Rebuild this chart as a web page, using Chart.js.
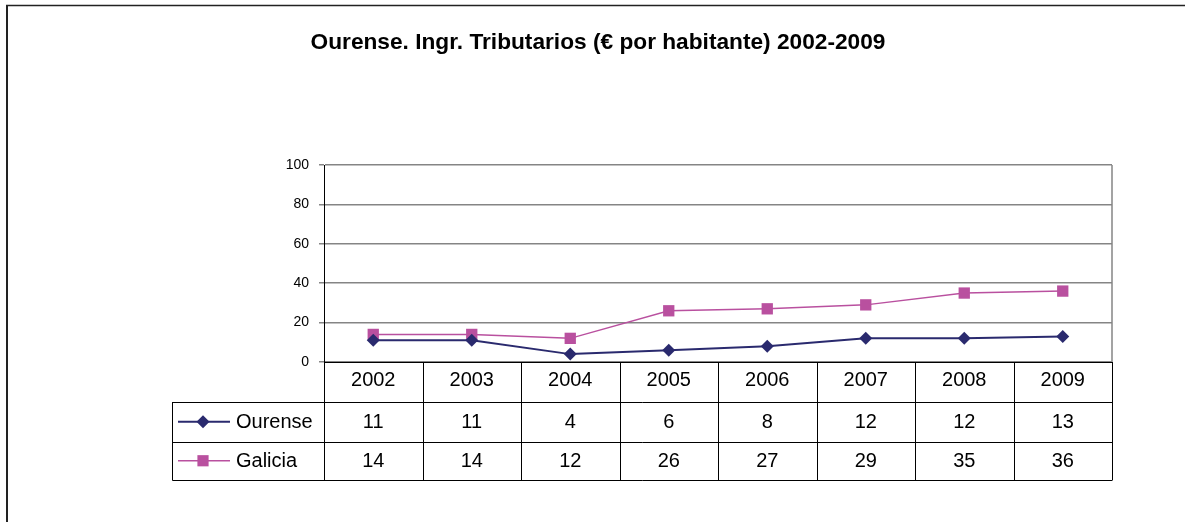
<!DOCTYPE html>
<html>
<head>
<meta charset="utf-8">
<script src="https://cdn.jsdelivr.net/npm/chart.js@4/dist/chart.umd.min.js"></script>
<style>
html,body{margin:0;padding:0;background:#fff;}
</style>
</head>
<body>
<canvas id="mychart" width="1185" height="522"></canvas>
<script>
const chartTitle='Ourense. Ingr. Tributarios (€ por habitante) 2002-2009';
const years=['2002','2003','2004','2005','2006','2007','2008','2009'];
const ourense=[11,11,4,6,8,12,12,13];
const galicia=[14,14,12,26,27,29,35,36];
const yTicks=[0,20,40,60,80,100];

const navy='#2a2a6e';
const magenta='#b9509f';
const gridGrey='#858585';

// draws a legend marker the same way as the series markers
const drawMarker=(c,style,x,y,color)=>{
    c.save();
    c.fillStyle=color;
    c.beginPath();
    if(style==='rectRot'){
        const r=6.5;
        c.moveTo(x,y-r);c.lineTo(x+r,y);c.lineTo(x,y+r);c.lineTo(x-r,y);
    }else{
        const s=5.6;
        c.rect(x-s,y-s,2*s,2*s);
    }
    c.closePath();
    c.fill();
    c.restore();
};

const tablePlugin={
    id:'dataTable',
    beforeDraw(chart){
        const c=chart.ctx;
        c.save();
        c.fillStyle='#fff';
        c.fillRect(0,0,chart.width,chart.height);
        c.strokeStyle='#222';
        c.lineWidth=1.5;
        c.beginPath();c.moveTo(6,5.5);c.lineTo(chart.width,5.5);c.stroke();
        c.lineWidth=2;
        c.beginPath();c.moveTo(7,5);c.lineTo(7,chart.height);c.stroke();
        c.fillStyle='#000';
        c.font='bold 22.7px Arial, "Liberation Sans", sans-serif';
        c.textAlign='center';
        c.textBaseline='middle';
        c.fillText(chartTitle,598,43);
        c.restore();
    },
    afterDraw(chart){
        const c=chart.ctx, a=chart.chartArea, xs=chart.scales.x;
        const step=(a.right-a.left)/years.length;
        const rows=[a.bottom,402,441.5,480];
        const legLeft=172.5;
        c.save();
        // plot right border
        c.strokeStyle=gridGrey;c.lineWidth=1.5;
        c.beginPath();c.moveTo(a.right,a.top);c.lineTo(a.right,a.bottom);c.stroke();
        // table grid
        c.strokeStyle='#000';c.lineWidth=1;
        c.beginPath();
        c.moveTo(a.left,a.bottom+0.5);c.lineTo(a.right,a.bottom+0.5);
        for(let r=1;r<rows.length;r++){
            const y=Math.round(rows[r])+0.5;
            c.moveTo(legLeft,y);c.lineTo(a.right,y);
        }
        for(let i=0;i<=years.length;i++){
            const x=Math.round(a.left+i*step)+0.5;
            c.moveTo(x,a.bottom);c.lineTo(x,rows[3]+0.5);
        }
        c.moveTo(legLeft,rows[1]);c.lineTo(legLeft,rows[3]+0.5);
        c.stroke();
        // texts
        c.fillStyle='#000';
        c.font='20px Arial, "Liberation Sans", sans-serif';
        c.textAlign='center';c.textBaseline='middle';
        const series=[ourense,galicia];
        years.forEach((yr,i)=>{
            const x=xs.getPixelForValue(i);
            c.fillText(yr,x,380);
            series.forEach((s,k)=>c.fillText(String(s[i]),x,(rows[k+1]+rows[k+2])/2+1));
        });
        // legend keys
        chart.data.datasets.forEach((ds,k)=>{
            const y=(rows[k+1]+rows[k+2])/2;
            c.strokeStyle=ds.borderColor;c.lineWidth=ds.borderWidth;
            c.beginPath();c.moveTo(178,y);c.lineTo(230,y);c.stroke();
            drawMarker(c,ds.pointStyle,203,y,ds.pointBackgroundColor);
            c.fillStyle='#000';c.textAlign='left';
            c.fillText(ds.label,236,y+1);
        });
        c.restore();
    }
};

const ctx=document.getElementById('mychart').getContext('2d');
let mychart=new Chart(ctx,{
    type:'line',
    data:{
        labels:years,
        datasets:[
            {
                label:'Ourense',
                data:ourense,
                borderColor:navy,
                backgroundColor:navy,
                pointBackgroundColor:navy,
                pointBorderColor:navy,
                borderWidth:2,
                pointStyle:'rectRot',
                pointRadius:6.5,
                pointBorderWidth:0,
                tension:0,
                clip:false
            },
            {
                label:'Galicia',
                data:galicia,
                borderColor:magenta,
                backgroundColor:magenta,
                pointBackgroundColor:magenta,
                pointBorderColor:magenta,
                borderWidth:1.5,
                pointStyle:'rect',
                pointRadius:8,
                pointBorderWidth:0,
                tension:0,
                clip:false
            }
        ]
    },
    options:{
        responsive:false,
        animation:false,
        events:[],
        layout:{padding:{left:0,top:165,right:73,bottom:160}},
        plugins:{legend:{display:false},title:{display:false},tooltip:{enabled:false}},
        scales:{
            x:{display:false,offset:true},
            y:{
                min:0,max:100,
                afterBuildTicks:scale=>{scale.ticks=yTicks.map(v=>({value:v}));},
                afterFit:scale=>{scale.width=324;},
                border:{color:'#000',width:1},
                grid:{color:gridGrey,lineWidth:1.5,tickLength:5,drawTicks:true},
                ticks:{color:'#000',padding:10,font:{family:'Arial, "Liberation Sans", sans-serif',size:14}}
            }
        }
    },
    plugins:[tablePlugin]
});
</script>
</body>
</html>
